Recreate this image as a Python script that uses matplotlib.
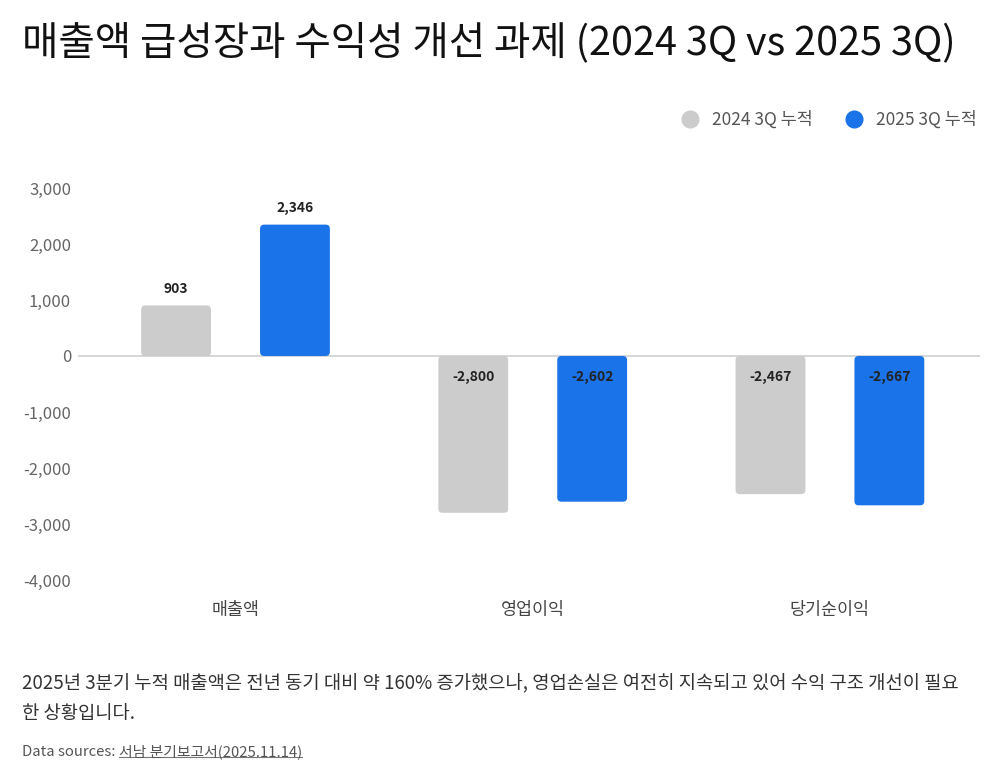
import numpy as np
import matplotlib
matplotlib.use('Agg')
import matplotlib.pyplot as plt
from matplotlib.patches import FancyBboxPatch
from matplotlib.lines import Line2D

plt.rcParams['font.family'] = ['Noto Sans CJK KR', 'DejaVu Sans']

# 데이터 (단위: 백만원)
categories = ['매출액', '영업이익', '당기순이익']
series_names = ['2024 3Q 누적', '2025 3Q 누적']
values_2024 = [903, -2800, -2467]
values_2025 = [2346, -2602, -2667]
colors = ['#cccccc', '#1a73e8']

title = '매출액 급성장과 수익성 개선 과제 (2024 3Q vs 2025 3Q)'
caption = ('2025년 3분기 누적 매출액은 전년 동기 대비 약 160% 증가했으나, 영업손실은 여전히 지속되고 있어 수익 구조 개선이 필요\n'
           '한 상황입니다.')
source_prefix = 'Data sources: '
source_link = '서남 분기보고서(2025.11.14)'

fig = plt.figure(figsize=(10, 7.83), dpi=100)
ax = fig.add_axes([0.078, 0.2593, 0.902, 0.5006])

x = np.arange(len(categories))
width = 0.235
offset = 0.2

# 둥근 모서리 막대
x_unit_px = 297.0
y_unit_px = 0.056
for vals, col, dx in [(values_2024, colors[0], -offset), (values_2025, colors[1], offset)]:
    bars = ax.bar(x + dx, vals, width, color=col)
    for b in bars:
        b.set_visible(False)
        bx, by = b.get_x(), b.get_y()
        bw, bh = b.get_width(), b.get_height()
        p = FancyBboxPatch((bx, min(by, by + bh)), bw, abs(bh),
                           boxstyle='round,pad=0,rounding_size=0.014',
                           mutation_aspect=x_unit_px / y_unit_px,
                           facecolor=col, edgecolor='none', zorder=2)
        ax.add_patch(p)
    for xi, v in zip(x + dx, vals):
        if v >= 0:
            ax.text(xi, v + 290, f'{v:,}', ha='center', va='center',
                    fontsize=10, fontweight='bold', color='#222222')
        else:
            ax.text(xi, -380, f'{v:,}', ha='center', va='center',
                    fontsize=10, fontweight='bold', color='#222222', zorder=3)

ax.axhline(0, color='#d0d0d0', lw=1.2, zorder=1)
ax.set_xlim(-0.53, 2.505)
ax.set_ylim(-4000, 3000)
ax.set_yticks(np.arange(-4000, 3001, 1000))
ax.set_yticklabels([f'{t:,}' for t in range(-4000, 3001, 1000)])
ax.set_xticks(x)
ax.set_xticklabels(categories)
ax.tick_params(axis='y', length=0, labelsize=12, labelcolor='#666666', pad=5)
ax.tick_params(axis='x', length=0, labelsize=12.5, labelcolor='#444444', pad=15)
for s in ax.spines.values():
    s.set_visible(False)

# 제목
fig.text(0.022, 0.945, title, fontsize=28.5, color='#111111', ha='left', va='center')

# 범례
handles = [Line2D([], [], marker='o', ls='', markersize=12, color=c) for c in colors]
fig.legend(handles, series_names, loc='center right', bbox_to_anchor=(0.992, 0.847),
           ncol=2, frameon=False, fontsize=12.5, labelcolor='#555555',
           handletextpad=0.25, columnspacing=1.4)

# 설명
fig.text(0.022, 0.108, caption, fontsize=13.5, color='#333333', ha='left', va='center',
         linespacing=1.55)

t1 = fig.text(0.022, 0.040, source_prefix, fontsize=10.7, color='#555555', ha='left', va='center')
fig.canvas.draw()
r = fig.canvas.get_renderer()
bb = t1.get_window_extent(r)
x2 = bb.x1 / fig.bbox.width
t2 = fig.text(x2, 0.040, source_link, fontsize=10.7, color='#555555', ha='left', va='center')
bb2 = t2.get_window_extent(r)
uy = (bb2.y0 + 2) / fig.bbox.height
fig.add_artist(Line2D([x2, bb2.x1 / fig.bbox.width], [uy, uy], color='#777777', lw=0.8))

fig.savefig('out.png', dpi=100)
